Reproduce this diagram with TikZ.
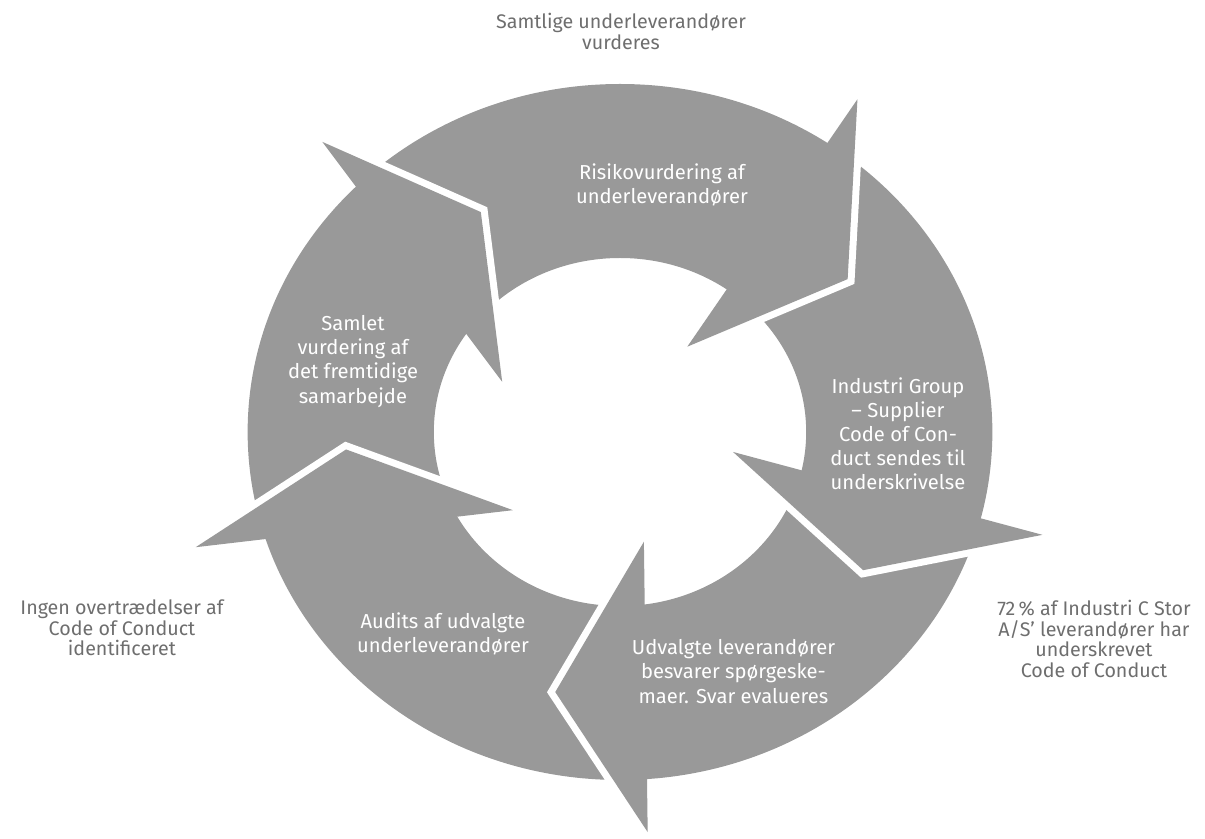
\documentclass[tikz,border=0pt]{standalone}
\usepackage{fontspec}
\setmainfont{Fira Sans}
\definecolor{ring}{HTML}{999999}
\definecolor{note}{HTML}{6E6E6E}
\tikzset{
  stepbox/.style={text=white,align=center,inner sep=0pt,font=\fontsize{11.5}{13.7}\selectfont},
  notebox/.style={text=note,align=center,inner sep=0pt,font=\fontsize{11.2}{11.7}\selectfont}
}
\begin{document}
\begin{tikzpicture}[x=0.02cm,y=0.02cm]
\useasboundingbox (0,0) rectangle (1205,839);
\begin{scope}[shift={(620,407)},xscale=1.07]
  \fill[ring,even odd rule] (0,0) circle (348) (0,0) circle (174);
  \foreach \oang/\orad/\tang/\trad/\iang/\irad in {56.3/400/35.7/262/53.6/106,-14.6/408/-31.3/266/-10.7/107.5,-86.3/401/-103.1/267/-78.5/112,196.2/413/183.9/256.6/218/127,133.8/402/120.6/255.5/155.5/121} {
    \draw[white,line width=0.28cm,line join=miter] (\oang:\orad) -- (\tang:\trad) -- (\iang:\irad);
    \fill[ring] (\oang:\orad) -- (\tang:\trad) -- (\iang:\irad) -- cycle;
  }
\end{scope}
\node[stepbox] (risiko) at (662,654) {Risikovurdering af\\underleverandører};
\node[stepbox] (industri) at (898,405) {Industri Group\\– Supplier\\Code of Con-\\duct sendes til\\underskrivelse};
\node[stepbox] (udvalgte) at (733.5,167.5) {Udvalgte leverandører\\besvarer spørgeske-\\maer. Svar evalueres};
\node[stepbox] (audits) at (443,205) {Audits af udvalgte\\underleverandører};
\node[stepbox] (samlet) at (353,477.5) {Samlet\\vurdering af\\det fremtidige\\samarbejde};
\node[notebox] (samtlige) at (621,807.5) {Samtlige underleverandører\\vurderes};
\node[notebox] (ingen) at (122,211) {Ingen overtrædelser af\\Code of Conduct\\identificeret};
\node[notebox] (andel) at (1094,200) {72\,\% af Industri C Stor\\A/S’ leverandører har\\underskrevet\\Code of Conduct};
\end{tikzpicture}
\end{document}
